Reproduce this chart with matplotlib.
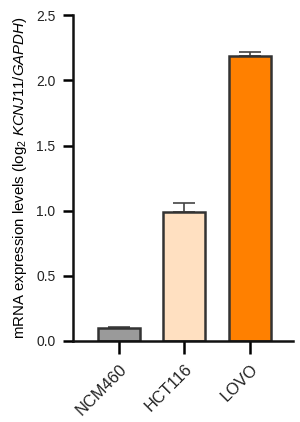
import numpy as np
from matplotlib import pyplot as plt

cell_lines = ['NCM460', 'HCT116', 'LOVO']
expression = [0.10, 0.99, 2.185]
errors = [0.01, 0.07, 0.035]
colors = ['#9a9a9a', '#ffe0c1', '#ff8000']

plt.rcParams['font.family'] = ['Liberation Sans', 'DejaVu Sans']
plt.rcParams['mathtext.fontset'] = 'custom'
plt.rcParams['mathtext.rm'] = 'Liberation Sans'
plt.rcParams['mathtext.it'] = 'Liberation Sans:italic'
plt.rcParams['text.color'] = '#222222'

fig = plt.figure(figsize=(3.0, 4.22), dpi=100)
ax = fig.add_axes([0.243, 0.192, 0.734, 0.772])

x = np.arange(len(cell_lines))
ax.bar(x, expression, width=0.64, color=colors, edgecolor='#333333', linewidth=1.8, zorder=2)
ax.errorbar(x, expression, yerr=[np.zeros(len(errors)), errors], fmt='none',
            ecolor='#444444', elinewidth=1.2, capsize=8, capthick=1.2, zorder=1)

ax.set_xlim(-0.70, 2.66)
ax.set_ylim(0, 2.5)
ax.set_yticks([0.0, 0.5, 1.0, 1.5, 2.0, 2.5])
ax.set_yticklabels(['0.0', '0.5', '1.0', '1.5', '2.0', '2.5'])
ax.set_xticks(x)
ax.set_xticklabels(cell_lines, rotation=45, ha='right', rotation_mode='anchor')

for side in ['top', 'right']:
    ax.spines[side].set_visible(False)
for side in ['left', 'bottom']:
    ax.spines[side].set_linewidth(1.8)
    ax.spines[side].set_color('#111111')

ax.tick_params(axis='y', length=7.5, width=1.8, labelsize=10, pad=5, labelcolor='#222222')
ax.tick_params(axis='x', length=9.5, width=1.8, labelsize=11.8, pad=5, labelcolor='#222222')

ax.set_ylabel(r'mRNA expression levels (log$_2$ $\it{KCNJ11/GAPDH}$)', fontsize=10.8, labelpad=5)

fig.savefig('out.png', dpi=100)
